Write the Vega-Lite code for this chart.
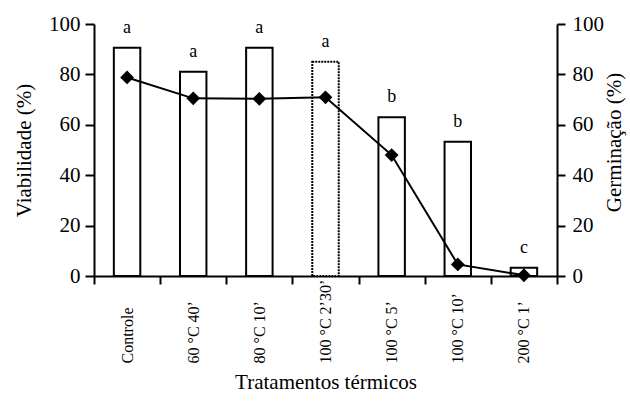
{
  "$schema": "https://vega.github.io/schema/vega-lite/v6.json",
  "width": 463,
  "height": 252,
  "autosize": {"type": "none"},
  "padding": {"left": 94, "top": 24, "right": 73, "bottom": 129},
  "background": "white",
  "config": {
    "view": {"stroke": null},
    "font": "Liberation Serif, Times New Roman, serif",
    "text": {"font": "Liberation Serif, Times New Roman, serif"},
    "axis": {
      "domainColor": "black", "domainWidth": 2, "tickColor": "black", "tickWidth": 2,
      "labelColor": "black", "titleColor": "black",
      "labelFont": "Liberation Serif, Times New Roman, serif",
      "titleFont": "Liberation Serif, Times New Roman, serif",
      "titleFontWeight": "normal", "grid": false
    }
  },
  "data": {
    "values": [
      {"trat": "Controle", "viab": 90.6, "germ": 78.8, "letra": "a"},
      {"trat": "60 °C 40’", "viab": 81.1, "germ": 70.5, "letra": "a"},
      {"trat": "80 °C 10’", "viab": 90.6, "germ": 70.3, "letra": "a"},
      {"trat": "100 °C 2’30’", "viab": 85.0, "germ": 70.9, "letra": "a"},
      {"trat": "100 °C 5’", "viab": 63.0, "germ": 48.0, "letra": "b"},
      {"trat": "100 °C 10’", "viab": 53.3, "germ": 4.6, "letra": "b"},
      {"trat": "200 °C 1’", "viab": 3.3, "germ": 0.3, "letra": "c"}
    ]
  },
  "encoding": {
    "x": {
      "field": "trat", "type": "nominal", "sort": null,
      "scale": {"paddingInner": 0, "paddingOuter": 0},
      "axis": {
        "title": "Tratamentos térmicos", "titleFontSize": 21, "titlePadding": 8,
        "labelAngle": 270, "labelAlign": "left", "labelBaseline": "middle",
        "labelFontSize": 16, "labelPadding": 79, "tickSize": 8, "tickBand": "extent"
      }
    }
  },
  "layer": [
    {
      "encoding": {
        "y": {
          "field": "viab", "type": "quantitative",
          "scale": {"domain": [0, 100], "nice": false},
          "axis": {
            "orient": "left", "title": "Viabilidade (%)", "values": [0, 20, 40, 60, 80, 100],
            "labelFontSize": 21, "titleFontSize": 21, "tickSize": 9, "labelPadding": 5, "titlePadding": 14
          }
        }
      },
      "layer": [
        {
          "mark": {"type": "bar", "fill": "white", "stroke": "black", "strokeWidth": 2, "width": {"band": 0.4}},
          "encoding": {
            "strokeDash": {
              "condition": {"test": "datum.trat === '100 °C 2’30’'", "value": [2, 1]},
              "value": [1, 0]
            }
          }
        },
        {
          "mark": {"type": "text", "baseline": "bottom", "dy": -11, "fontSize": 18, "color": "black"},
          "encoding": {"text": {"field": "letra"}}
        }
      ]
    },
    {
      "encoding": {
        "y": {
          "field": "germ", "type": "quantitative",
          "scale": {"domain": [0, 100], "nice": false},
          "axis": {
            "orient": "right", "title": "Germinação (%)", "values": [0, 20, 40, 60, 80, 100],
            "labelFontSize": 21, "titleFontSize": 21, "tickSize": 8, "labelPadding": 7,
            "titlePadding": 21, "titleAngle": 270, "titleY": 118
          }
        }
      },
      "layer": [
        {"mark": {"type": "line", "color": "black", "strokeWidth": 2}},
        {"mark": {"type": "point", "shape": "diamond", "filled": true, "color": "black", "opacity": 1, "size": 190}}
      ]
    }
  ],
  "resolve": {"scale": {"y": "independent"}}
}
